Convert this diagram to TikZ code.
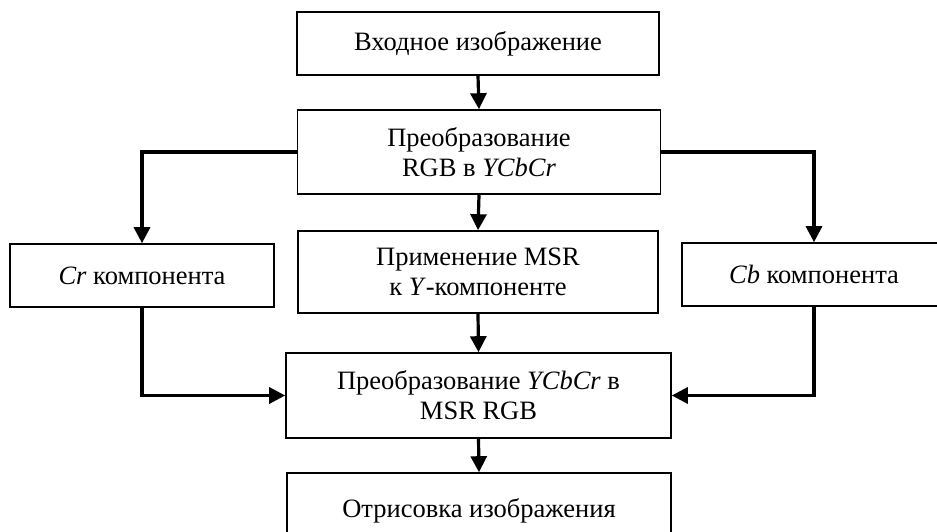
\documentclass[tikz,border=0pt]{standalone}
\usepackage{fontspec}
\setmainfont{Liberation Serif}
\usetikzlibrary{arrows.meta}
\begin{document}
\begin{tikzpicture}[x=1pt,y=-1pt,%
every node/.style={rectangle, draw, line width=1.6pt, inner sep=0pt,
align=center, font=\fontsize{26.5}{30}\selectfont},
strelka/.style={line width=3.2pt, -{Triangle[width=16pt,length=16pt]}}]
\useasboundingbox (0,0) rectangle (937,532);
\clip (0,0) rectangle (937,532);
\node (vhod) at (478,43.5) [minimum width=362pt, minimum height=63pt]
{Входное изображение};
\node (preobr) at (479,152) [minimum width=363pt, minimum height=84pt]
{Преобразование\\RGB в \textit{YCbCr}};
\node (msr) at (478,272) [minimum width=360pt, minimum height=82pt]
{Применение MSR\\к \textit{Y}-компоненте};
\node (cr) at (142,275.5) [minimum width=264pt, minimum height=63pt]
{\textit{Cr} компонента};
\node (cb) at (814,274.5) [minimum width=264pt, minimum height=63pt]
{\textit{Cb} компонента};
\node (obr) at (478.5,395.5) [minimum width=385pt, minimum height=85pt]
{Преобразование \textit{YCbCr} в\\MSR RGB};
\node (otris) at (479,511) [minimum width=384pt, minimum height=76pt]
{Отрисовка изображения};
\draw[strelka] (vhod.south) -- (preobr.north);
\draw[strelka] (preobr.west) -| (cr.north);
\draw[strelka] (preobr.east) -| (cb.north);
\draw[strelka] (preobr.south) -- (msr.north);
\draw[strelka] (cr.south) |- (obr.west);
\draw[strelka] (cb.south) |- (obr.east);
\draw[strelka] (msr.south) -- (obr.north);
\draw[strelka] (obr.south) -- (otris.north);
\end{tikzpicture}
\end{document}
